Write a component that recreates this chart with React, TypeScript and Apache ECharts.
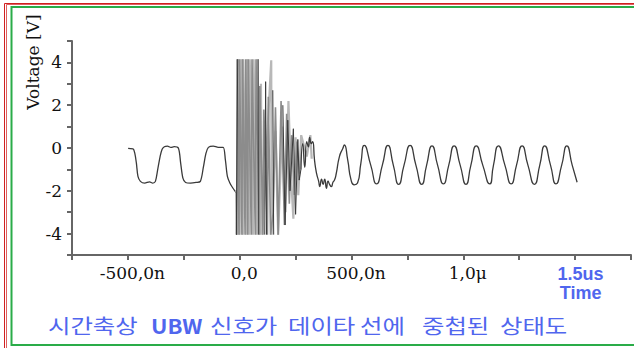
import React, { useEffect, useRef } from "react";
import * as echarts from "echarts";

// time in ns, voltage in V
const squareWave: [number, number][] = [
  [-499, -0.02], [-477, -0.04], [-469, -0.25], [-462, -0.71], [-455, -1.33], [-444, -1.56],
  [-425, -1.64], [-403, -1.58], [-389, -1.64], [-377, -1.56], [-367, -1.02], [-356, -0.4],
  [-347, -0.06], [-337, 0.06], [-323, 0.09], [-308, 0.03], [-293, 0.06], [-274, -0.01],
  [-264, -0.71], [-254, -1.41], [-242, -1.61], [-220, -1.64], [-195, -1.61], [-176, -1.56],
  [-162, -0.87], [-151, -0.25], [-140, 0.03], [-118, 0.09], [-96, 0.03], [-74, 0.03],
  [-64, -0.56], [-55, -1.33], [-44, -1.64], [-30, -1.88], [-20, -2.03],
];

const burstLight: [number, number][] = [
  [-11, -4.05], [-6, 4.15], [0, -4.05], [6, 4.15], [14, -4.05], [16, 4.15], [30, -4.05],
  [33, 4.15], [43, -4.05], [45, 4.15], [60, -4.05], [62, 4.15], [76, -4.05], [79, 4.15],
  [92, -4.05], [95, 3.0], [100, -4.05], [141, 4.1], [143, -4.05], [160, 0.8], [172, -4.05],
  [190, 1.0], [205, -3.0], [218, 2.2], [228, -1.0], [240, -3.3], [250, 0.5], [262, -2.2],
  [275, 0.6], [300, -0.4], [316, 0.6], [322, -0.5],
];

const burstMid: [number, number][] = [
  [-13, -4.05], [-12, 4.15], [-3, -4.05], [-1, 4.15], [10, -4.05], [13, 4.15], [24, -4.05],
  [27, 4.15], [36, -4.05], [38, 4.15], [52, -4.05], [55, 4.15], [70, -4.05], [73, 4.15],
  [88, -4.05], [90, 2.9], [104, -4.05], [108, 1.8], [124, -4.05], [128, 2.4], [138, -4.05],
  [150, -3.0], [160, 1.9], [172, -4.05], [185, 2.2], [200, -3.6], [210, 1.6], [222, -2.6],
  [232, 0.6], [244, -2.2], [256, 0.3], [268, -1.2],
];

const burstDark: ([number, number] | [number, string])[] = [
  [-20, -2.03], [-16, -2.1], [-15, -4.05], [-9, 4.15], [-8, "-"],
  [82.5, 4.15], [83.5, -4.05], [84, "-"],
  [112, -4.05], [116, 3.1], [120, -4.05], [121, "-"],
  [148, 2.7], [152, -4.05], [153, "-"],
  [193, 2.0], [203, -3.6], [215, 1.3], [225, -2.0], [240, 0.9],
  [250, -3.1], [260, 0.4], [266, -1.5], [274, -1.0],
];

const recoveryWave: [number, number][] = [
  [274, -1.0], [282, 0.2], [291, -0.9], [300, 0.3], [307, 0.05], [313, 0.5], [320, 0.2],
  [326, 0.3], [335, -0.6], [344, -1.2], [353, -1.55], [358, -1.8], [366, -1.45], [373, -1.7],
  [380, -1.45], [388, -1.88], [395, -1.55], [402, -1.7], [410, -1.8], [417, -1.6], [424, -1.5],
  [432, -1.18], [446, -0.4], [461, -0.02], [468, 0.14], [483, -0.56], [498, -1.49], [512, -1.72],
  [527, -1.64], [542, -0.71], [557, 0.12], [586, -0.8], [612, -1.68], [638, -0.8], [663, 0.12],
  [687, -0.8], [711, -1.7], [735, -0.8], [762, 0.12], [788, -0.8], [814, -1.7], [836, -0.8],
  [860, 0.1], [885, -0.8], [911, -1.68], [935, -0.8], [959, 0.1], [986, -0.8], [1012, -1.7],
  [1034, -0.8], [1058, 0.1], [1087, -0.8], [1118, -1.68], [1135, -0.8], [1157, 0.1],
  [1186, -0.8], [1214, -1.68], [1238, -0.8], [1263, 0.1], [1289, -0.8], [1318, -1.7],
  [1342, -0.8], [1364, 0.1], [1390, -0.8], [1414, -1.68], [1440, -0.8], [1463, 0.1],
  [1487, -0.8], [1509, -1.6],
];

const xTickValues = [-500, 0, 500, 1000, 1500];
const xTickTexts = ["-500,0n", "0,0", "500,0n", "1,0μ", "{b|1.5us}\n{b|Time}"];
const yTickValues = [-4, -2, 0, 2, 4];
const yAxisTitle = "Voltage [V]";
const captionWords = ["시간축상", "UBW", "신호가", "데이타", "선에", "중첩된", "상태도"];
const captionX = [48, 151, 210, 288, 360, 422, 500];

const SERIF = "DejaVu Serif";
const BLUE = "#5066ee";

export default function App() {
  const ref = useRef<HTMLDivElement>(null);
  useEffect(() => {
    if (!ref.current) return;
    const chart = echarts.init(ref.current, null, { renderer: "svg" });
    const captionEls = captionWords.map((w, i) => ({
      type: "text",
      x: captionX[i],
      y: 325,
      scaleX: w === "UBW" ? 1.1 : 1.22,
      scaleY: 1,
      originX: 0,
      originY: 0,
      silent: true,
      style: {
        text: w,
        fill: BLUE,
        fontFamily: "Noto Sans CJK KR",
        fontSize: 20,
        fontWeight: w === "UBW" ? "bold" : "normal",
        textAlign: "left",
        textVerticalAlign: "middle",
        align: "left",
        verticalAlign: "middle",
      },
    }));
    const lineSeries = (data: any[], color: string, width: number, smooth: number | boolean, z: number) => ({
      type: "line",
      data,
      showSymbol: false,
      symbol: "none",
      smooth,
      silent: true,
      connectNulls: false,
      z,
      lineStyle: { color, width },
    });
    chart.setOption({
      animation: false,
      grid: { left: 72, right: -6, top: 41, bottom: 93, containLabel: false },
      xAxis: {
        type: "value",
        min: -750,
        max: 1750,
        interval: 250,
        splitLine: { show: false },
        axisLine: { onZero: false, lineStyle: { color: "#666", width: 2 } },
        axisTick: { length: 5, lineStyle: { color: "#666", width: 2 } },
        axisLabel: {
          margin: 9,
          padding: [0, 0, 0, 9],
          fontFamily: SERIF,
          fontSize: 17,
          color: "#111",
          formatter: (v: number) => {
            const i = xTickValues.indexOf(Math.round(v));
            return i >= 0 ? xTickTexts[i] : "";
          },
          rich: {
            b: {
              fontFamily: "Liberation Sans",
              fontWeight: "bold",
              fontSize: 18,
              color: BLUE,
              lineHeight: 19,
              padding: [0, 0, 0, 2],
            },
          },
        },
      },
      yAxis: {
        type: "value",
        min: -5,
        max: 5,
        interval: 1,
        splitLine: { show: false },
        axisLine: { onZero: false, lineStyle: { color: "#666", width: 2 } },
        axisTick: { length: 5, lineStyle: { color: "#666", width: 2 } },
        axisLabel: {
          margin: 10,
          fontFamily: SERIF,
          fontSize: 17,
          color: "#111",
          formatter: (v: number) => (yTickValues.indexOf(Math.round(v)) >= 0 ? String(Math.round(v)) : ""),
        },
      },
      series: [
        lineSeries(burstLight, "#b8b8b8", 2.2, false, 1),
        lineSeries(burstMid, "#8c8c8c", 1.6, false, 2),
        lineSeries(burstDark, "#3a3a3a", 1, false, 3),
        lineSeries(squareWave, "#3a3a3a", 1.3, 0.3, 4),
        lineSeries(recoveryWave, "#3a3a3a", 1.3, 0.6, 4),
      ],
      graphic: [
        {
          type: "rect",
          silent: true,
          shape: { x: 4.5, y: 3.5, width: 700, height: 400 },
          style: { fill: "none", stroke: "#d02020", lineWidth: 1 },
        },
        {
          type: "rect",
          silent: true,
          shape: { x: 6.5, y: 4.5, width: 700, height: 400 },
          style: { fill: "none", stroke: "#e06060", lineWidth: 1 },
        },
        {
          type: "rect",
          silent: true,
          shape: { x: 11.5, y: 7, width: 700, height: 338 },
          style: { fill: "none", stroke: "#2aac48", lineWidth: 2 },
        },
        {
          type: "text",
          x: 33,
          y: 62,
          rotation: Math.PI / 2,
          silent: true,
          style: {
            text: yAxisTitle,
            fill: "#111",
            fontFamily: SERIF,
            fontSize: 17,
            textAlign: "center",
            textVerticalAlign: "middle",
            align: "center",
            verticalAlign: "middle",
          },
        },
        ...captionEls,
      ],
    });
    return () => chart.dispose();
  }, []);
  return (
    <div
      ref={ref}
      style={{ position: "absolute", left: 0, top: 0, width: 634, height: 348, background: "#fff" }}
    />
  );
}
